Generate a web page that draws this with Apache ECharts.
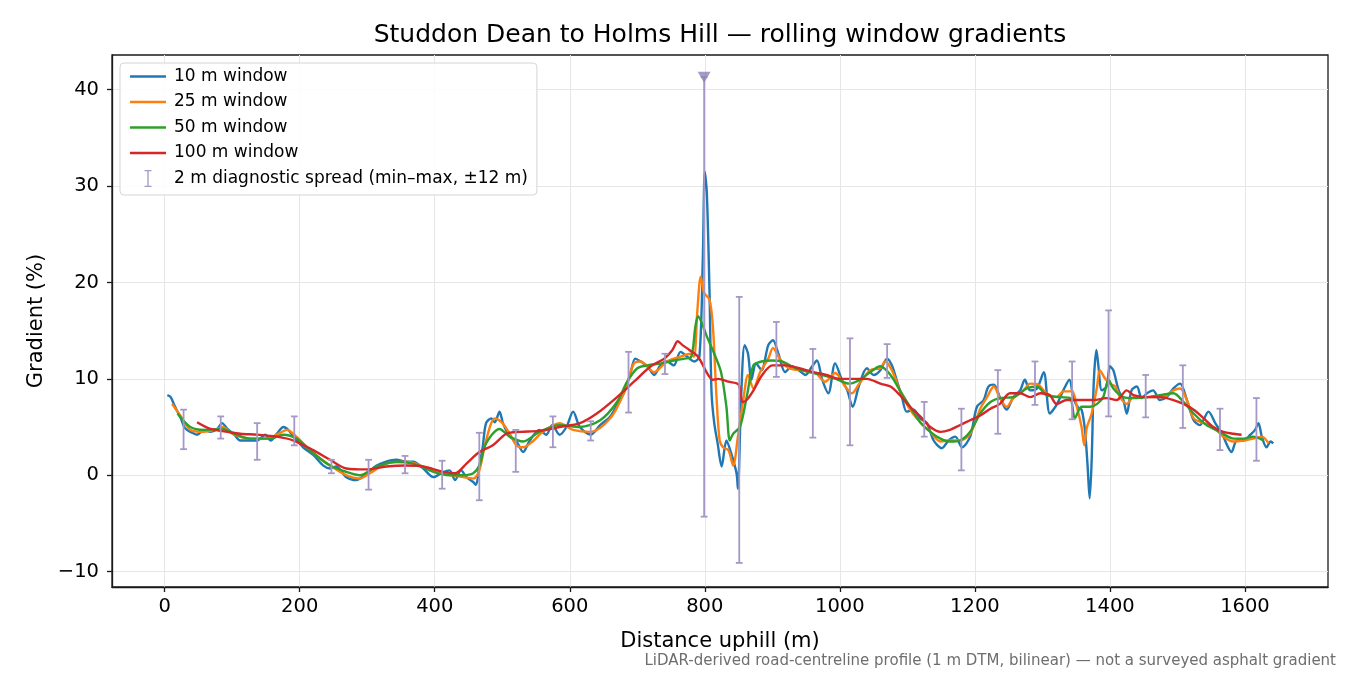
<!DOCTYPE html>
<html>
<head>
<meta charset="utf-8">
<script src="https://cdn.jsdelivr.net/npm/echarts@6/dist/echarts.min.js"></script>
<style>
  html, body { margin: 0; padding: 0; background: #fff; }
  #main { width: 1350px; height: 675px; }
</style>
</head>
<body>
<div id="main"></div>
<script>
// 10 m window
var dist10 = [4, 9, 14, 19, 24, 29, 33, 38, 48, 58, 68, 78, 85, 93, 103, 112, 127, 137, 149, 157, 166, 176, 183, 191, 205, 220, 235, 245, 254, 269, 284, 299, 314, 328, 343, 358, 368, 383, 398, 412, 422, 430, 439, 447, 457, 461, 466, 471, 476, 484, 489, 496, 501, 511, 521, 531, 540, 555, 565, 574, 585, 595, 605, 615, 631, 645, 660, 670, 680, 690, 697, 705, 715, 725, 734, 744, 754, 764, 774, 784, 792, 797, 800, 803, 807, 810, 814, 819, 825, 832, 839, 847, 849, 854, 859, 864, 869, 876, 884, 894, 901, 909, 919, 929, 939, 949, 959, 966, 974, 983, 993, 1003, 1011, 1019, 1028, 1040, 1050, 1060, 1070, 1077, 1084, 1092, 1099, 1109, 1119, 1129, 1139, 1151, 1161, 1171, 1181, 1193, 1203, 1213, 1220, 1228, 1237, 1247, 1257, 1267, 1274, 1282, 1292, 1302, 1311, 1321, 1331, 1340, 1346, 1353, 1358, 1363, 1367, 1370, 1373, 1376, 1380, 1383, 1388, 1395, 1400, 1405, 1413, 1420, 1425, 1432, 1440, 1447, 1455, 1464, 1474, 1484, 1494, 1504, 1514, 1524, 1533, 1546, 1556, 1566, 1575, 1580, 1588, 1598, 1608, 1615, 1620, 1625, 1632, 1638, 1642];
var grad10 = [8.3, 8.1, 7.3, 6.6, 5.9, 5.0, 4.7, 4.5, 4.2, 4.7, 4.5, 4.8, 5.4, 4.8, 4.2, 3.6, 3.6, 3.6, 4.2, 3.6, 4.3, 5.0, 4.7, 4.0, 2.9, 2.1, 1.0, 0.7, 0.9, -0.2, -0.5, 0.2, 1.0, 1.4, 1.6, 1.4, 1.4, 0.7, -0.2, 0.3, 0.5, -0.5, 0.5, -0.2, -0.7, -1.0, 0.9, 2.9, 5.4, 5.9, 5.5, 6.6, 5.4, 4.0, 3.5, 2.4, 3.5, 4.7, 4.2, 5.2, 4.2, 5.0, 6.6, 5.0, 4.2, 5.2, 6.1, 7.3, 8.5, 10.6, 12.1, 11.8, 11.3, 10.4, 11.4, 11.8, 11.4, 12.8, 12.3, 11.8, 12.3, 22.3, 31.5, 29.3, 18.9, 8.5, 5.4, 3.3, 0.9, 3.6, 2.3, 0.2, -1.4, 8.5, 13.5, 12.6, 9.9, 11.6, 10.9, 13.5, 14.0, 12.6, 10.7, 11.3, 10.9, 10.4, 11.3, 11.9, 9.9, 8.5, 11.6, 9.9, 8.8, 7.1, 9.2, 11.1, 10.4, 10.9, 12.1, 11.4, 9.9, 8.1, 6.6, 6.8, 5.9, 5.4, 3.6, 2.8, 3.6, 4.0, 2.9, 4.0, 7.1, 7.8, 9.2, 9.4, 8.1, 6.8, 8.1, 8.8, 9.9, 8.8, 9.0, 10.7, 6.4, 7.3, 8.8, 9.9, 8.0, 7.0, 6.8, 4.7, 0.9, -2.4, 1.6, 9.5, 13.0, 11.3, 8.8, 9.2, 11.3, 10.9, 8.8, 7.8, 6.4, 8.8, 9.2, 8.0, 8.5, 8.8, 7.8, 8.1, 9.0, 9.5, 7.8, 5.7, 5.2, 6.6, 5.4, 4.3, 2.9, 2.4, 3.6, 3.6, 4.2, 4.7, 5.4, 4.0, 2.9, 3.5, 3.3];

// 25 m window
var dist25 = [11, 24, 38, 58, 78, 85, 103, 127, 149, 166, 181, 195, 220, 245, 269, 289, 304, 328, 358, 383, 412, 442, 457, 466, 476, 489, 499, 511, 521, 531, 545, 560, 585, 605, 631, 660, 680, 695, 705, 725, 744, 764, 779, 784, 789, 794, 799, 807, 812, 817, 822, 827, 835, 842, 849, 857, 864, 872, 882, 894, 901, 911, 924, 944, 964, 978, 993, 1008, 1018, 1028, 1045, 1060, 1067, 1077, 1089, 1104, 1119, 1134, 1149, 1163, 1178, 1193, 1208, 1218, 1228, 1237, 1247, 1257, 1272, 1282, 1294, 1306, 1321, 1331, 1344, 1351, 1358, 1362, 1366, 1373, 1381, 1385, 1393, 1400, 1408, 1415, 1425, 1435, 1450, 1464, 1479, 1494, 1504, 1514, 1524, 1539, 1553, 1568, 1583, 1598, 1612, 1625, 1635];
var grad25 = [7.4, 6.1, 4.7, 4.5, 4.8, 5.0, 4.2, 3.8, 3.8, 4.2, 4.7, 4.0, 2.3, 1.0, 0.0, -0.35, 0.2, 1.2, 1.4, 0.9, 0.2, -0.2, -0.35, 0.5, 3.6, 5.9, 5.5, 4.3, 3.1, 2.9, 3.5, 4.5, 5.4, 4.7, 4.5, 5.9, 8.5, 11.6, 11.8, 10.7, 11.8, 12.3, 12.6, 12.3, 17.1, 20.6, 18.9, 18.2, 15.4, 8.5, 3.6, 2.9, 2.6, 1.0, 4.0, 7.8, 10.4, 9.0, 10.7, 12.1, 13.2, 12.1, 11.1, 10.9, 10.6, 9.7, 10.6, 9.2, 8.5, 9.4, 10.9, 11.1, 11.8, 10.9, 8.8, 6.8, 5.5, 4.5, 3.5, 3.6, 3.6, 4.3, 6.9, 8.1, 9.2, 8.0, 7.1, 8.0, 8.8, 9.5, 9.4, 8.5, 8.1, 8.7, 8.7, 7.1, 5.0, 3.1, 5.0, 6.4, 9.2, 10.9, 10.0, 9.5, 9.2, 8.1, 7.4, 8.1, 8.1, 8.1, 8.1, 8.8, 9.0, 7.8, 5.9, 5.4, 5.0, 4.0, 3.5, 3.6, 3.8, 4.0, 3.3];

// 50 m window
var dist50 = [19, 38, 58, 85, 103, 127, 157, 176, 195, 220, 245, 269, 289, 314, 343, 368, 398, 422, 442, 457, 466, 476, 496, 511, 531, 555, 585, 615, 645, 670, 685, 700, 715, 735, 754, 770, 780, 786, 790, 795, 803, 814, 824, 832, 837, 842, 852, 862, 872, 884, 899, 914, 934, 954, 974, 994, 1014, 1030, 1045, 1060, 1075, 1089, 1104, 1119, 1134, 1149, 1163, 1178, 1193, 1208, 1223, 1237, 1257, 1277, 1292, 1306, 1326, 1341, 1348, 1358, 1371, 1381, 1390, 1398, 1405, 1420, 1435, 1455, 1474, 1494, 1509, 1524, 1543, 1563, 1583, 1598, 1612, 1627];
var grad50 = [6.4, 5.0, 4.7, 4.8, 4.3, 3.8, 3.8, 4.2, 3.8, 2.3, 1.0, 0.35, 0.0, 0.9, 1.4, 1.2, 0.35, 0.0, 0.0, 0.2, 1.0, 3.3, 4.8, 4.0, 3.5, 4.5, 5.2, 5.0, 5.7, 7.6, 9.7, 11.1, 11.4, 11.6, 11.9, 12.1, 12.3, 15.4, 16.5, 15.9, 14.4, 12.6, 10.7, 7.1, 3.6, 4.3, 5.0, 8.1, 11.4, 11.8, 11.9, 11.8, 11.1, 10.7, 10.4, 10.0, 9.5, 9.9, 10.7, 11.3, 10.4, 8.8, 7.1, 5.5, 4.5, 3.8, 3.5, 3.6, 4.5, 6.4, 7.6, 8.0, 8.1, 9.0, 9.2, 8.3, 8.1, 8.0, 5.9, 7.1, 7.1, 7.4, 8.1, 9.9, 9.0, 8.1, 8.0, 8.1, 8.3, 8.5, 7.6, 6.4, 5.2, 4.5, 3.8, 3.8, 4.0, 3.6];

// 100 m window
var dist100 = [48, 68, 93, 112, 137, 166, 191, 220, 245, 269, 299, 328, 358, 383, 412, 430, 447, 466, 486, 506, 526, 555, 585, 615, 640, 670, 695, 720, 740, 752, 760, 767, 777, 790, 805, 812, 820, 835, 850, 856, 862, 872, 885, 900, 920, 940, 960, 980, 1000, 1020, 1040, 1060, 1075, 1089, 1104, 1119, 1134, 1149, 1163, 1178, 1193, 1208, 1223, 1237, 1252, 1267, 1282, 1297, 1311, 1321, 1336, 1356, 1376, 1395, 1410, 1425, 1435, 1455, 1474, 1494, 1509, 1524, 1539, 1553, 1568, 1583, 1595];
var grad100 = [5.5, 4.8, 4.5, 4.3, 4.2, 4.0, 3.6, 2.6, 1.6, 0.7, 0.6, 0.9, 1.0, 0.9, 0.35, 0.2, 1.2, 2.4, 3.1, 4.3, 4.5, 4.6, 5.0, 5.4, 6.4, 8.1, 9.7, 11.3, 12.1, 13.0, 13.9, 13.5, 13.0, 12.3, 10.4, 9.9, 10.0, 9.7, 9.4, 7.6, 7.8, 8.8, 10.4, 11.4, 11.4, 11.1, 10.7, 10.4, 10.0, 10.0, 10.0, 9.5, 9.2, 8.3, 7.1, 6.1, 5.0, 4.5, 4.7, 5.2, 5.7, 6.2, 6.9, 7.4, 8.5, 8.5, 8.1, 8.5, 8.3, 7.4, 7.8, 7.8, 7.8, 8.0, 7.8, 8.8, 8.3, 8.1, 8.1, 7.8, 7.4, 6.8, 5.9, 5.0, 4.5, 4.3, 4.2];

// 2 m diagnostic spread (min / max)
var errX = [28, 83, 137, 192, 247, 302, 356, 411, 466, 520, 575, 631, 687, 741, 799, 851, 906, 960, 1015, 1070, 1125, 1180, 1234, 1289, 1344, 1398, 1453, 1508, 1563, 1617];
var errLo = [2.7, 3.8, 1.6, 3.1, 0.2, -1.5, 0.2, -1.4, -2.6, 0.35, 2.9, 3.6, 6.5, 10.5, -4.3, -9.1, 10.2, 3.9, 3.1, 10.1, 4.0, 0.5, 4.3, 7.3, 5.8, 6.1, 6.0, 4.9, 2.6, 1.5];
var errHi = [6.8, 6.1, 5.4, 6.1, 1.6, 1.6, 2.0, 1.5, 4.4, 4.7, 6.1, 5.6, 12.8, 12.6, 41.3, 18.5, 15.9, 13.1, 14.2, 13.6, 7.6, 6.9, 10.9, 11.8, 11.8, 17.1, 10.4, 11.4, 6.9, 8.0];

// clipped spread marker
var clipX = [799];
var clipY = [41.3];

var xTicks = [0, 200, 400, 600, 800, 1000, 1200, 1400, 1600];
var yTicks = [-10, 0, 10, 20, 30, 40];

var names = ['10 m window', '25 m window', '50 m window', '100 m window'];
var colors = ['#1f77b4', '#ff7f0e', '#2ca02c', '#d62728'];
var errName = '2 m diagnostic spread (min\u2013max, \u00b112 m)';
var errColor = '#a597c6';

function zip(xs, ys) {
  return xs.map(function (x, i) { return [x, ys[i]]; });
}

function minus(v) {
  return v < 0 ? '\u2212' + Math.abs(v) : String(v);
}

var lineIcon = 'path://M0,0H36V2.4H0Z';
var errIcon = 'path://M0,0H7V1.3H4.15V15.7H7V17H0V15.7H2.85V1.3H0Z';

function renderErr(params, api) {
  var x = api.value(0);
  var top = api.coord([x, api.value(2)]);
  var bot = api.coord([x, api.value(1)]);
  var c = 3.4;
  var st = { stroke: errColor, lineWidth: 1.8 };
  return {
    type: 'group',
    children: [
      { type: 'line', shape: { x1: top[0], y1: top[1], x2: bot[0], y2: bot[1] }, style: st },
      { type: 'line', shape: { x1: top[0] - c, y1: top[1], x2: top[0] + c, y2: top[1] }, style: st },
      { type: 'line', shape: { x1: bot[0] - c, y1: bot[1], x2: bot[0] + c, y2: bot[1] }, style: st }
    ]
  };
}

var lineData = [zip(dist10, grad10), zip(dist25, grad25), zip(dist50, grad50), zip(dist100, grad100)];

var series = lineData.map(function (d, i) {
  return {
    name: names[i],
    type: 'line',
    data: d,
    showSymbol: false,
    symbol: 'none',
    smooth: 0.3,
    color: colors[i],
    lineStyle: { width: 2.4, color: colors[i] },
    z: 2 + i
  };
});

series.push({
  name: errName,
  type: 'custom',
  renderItem: renderErr,
  color: errColor,
  encode: { x: 0, y: [1, 2] },
  data: errX.map(function (x, i) { return [x, errLo[i], errHi[i]]; }),
  z: 7
});

series.push({
  name: 'clipped',
  type: 'scatter',
  data: zip(clipX, clipY),
  symbol: 'triangle',
  symbolRotate: 180,
  symbolSize: [13, 11],
  itemStyle: { color: '#8e81b5' },
  z: 8
});

var tickFont = { fontSize: 19.5, color: '#000', fontFamily: 'DejaVu Sans' };
var nameFont = { fontFamily: 'DejaVu Sans', fontSize: 21, color: '#000' };

var option = {
  animation: false,
  textStyle: { fontFamily: 'DejaVu Sans' },
  title: {
    text: 'Studdon Dean to Holms Hill \u2014 rolling window gradients',
    left: 720,
    top: 23,
    padding: 0,
    textAlign: 'center',
    textStyle: { fontFamily: 'DejaVu Sans', fontSize: 25, fontWeight: 'normal', color: '#000' }
  },
  legend: {
    orient: 'vertical',
    left: 120,
    top: 63,
    padding: [5, 9, 8, 10],
    itemWidth: 36,
    itemHeight: 17,
    itemGap: 8.5,
    backgroundColor: 'rgba(255,255,255,0.85)',
    borderColor: '#d4d4d4',
    borderWidth: 1,
    borderRadius: 4,
    itemStyle: { borderWidth: 0 },
    textStyle: { fontFamily: 'DejaVu Sans', fontSize: 17, color: '#000', padding: [0, 0, 0, 3] },
    data: names.map(function (n) { return { name: n, icon: lineIcon }; })
      .concat([{ name: errName, icon: errIcon }])
  },
  grid: {
    left: 112, right: 22, top: 55, bottom: 88,
    show: true, borderColor: '#1a1a1a', borderWidth: 1.3, backgroundColor: 'transparent'
  },
  xAxis: {
    type: 'value',
    min: -78,
    max: 1723,
    name: 'Distance uphill (m)',
    nameLocation: 'middle',
    nameGap: 44,
    nameTextStyle: nameFont,
    axisLine: { show: true, onZero: false, lineStyle: { color: '#1a1a1a', width: 1.3 } },
    axisTick: { show: true, inside: false, length: 5, customValues: xTicks, lineStyle: { color: '#1a1a1a', width: 1.3 } },
    splitLine: { show: true, lineStyle: { color: '#e6e6e6', width: 1 } },
    axisLabel: Object.assign({ customValues: xTicks, margin: 10, formatter: function (v) { return String(v); } }, tickFont)
  },
  yAxis: {
    type: 'value',
    min: -11.6,
    max: 43.6,
    name: 'Gradient (%)',
    nameLocation: 'middle',
    nameGap: 65,
    nameRotate: 90,
    nameTextStyle: nameFont,
    axisLine: { show: true, onZero: false, lineStyle: { color: '#1a1a1a', width: 1.3 } },
    axisTick: { show: true, inside: false, length: 5, customValues: yTicks, lineStyle: { color: '#1a1a1a', width: 1.3 } },
    splitLine: { show: true, lineStyle: { color: '#e6e6e6', width: 1 } },
    axisLabel: Object.assign({ customValues: yTicks, margin: 13, formatter: minus }, tickFont)
  },
  graphic: [{
    type: 'text',
    right: 14,
    top: 654,
    style: {
      text: 'LiDAR-derived road-centreline profile (1 m DTM, bilinear) \u2014 not a surveyed asphalt gradient',
      font: '15px "DejaVu Sans"',
      fill: '#6e6e6e'
    }
  }],
  series: series
};

var myChart = echarts.init(document.getElementById('main'));
myChart.setOption(option);
</script>
</body>
</html>
